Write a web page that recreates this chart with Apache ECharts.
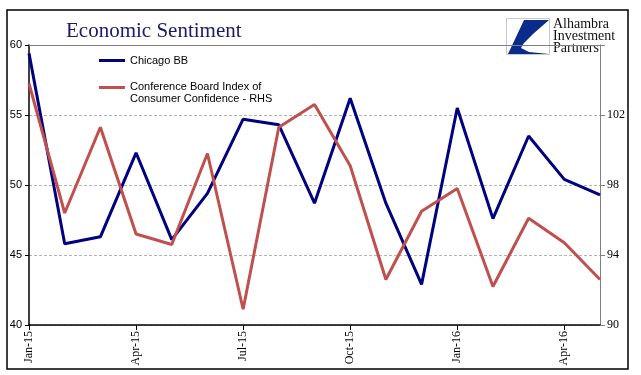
<!DOCTYPE html>
<html>
<head>
<meta charset="utf-8">
<script src="https://cdn.jsdelivr.net/npm/echarts@6/dist/echarts.min.js"></script>
<style>
  html, body { margin: 0; padding: 0; background: #fff; }
  #chart { width: 641px; height: 375px; }
</style>
</head>
<body>
<div id="chart"></div>
<script>
// monthly, Jan-15 .. May-16
const months = ['Jan-15', 'Feb-15', 'Mar-15', 'Apr-15', 'May-15', 'Jun-15', 'Jul-15', 'Aug-15', 'Sep-15',
  'Oct-15', 'Nov-15', 'Dec-15', 'Jan-16', 'Feb-16', 'Mar-16', 'Apr-16', 'May-16']

// Chicago BB (left axis)
const chicagoBB = [59.4, 45.8, 46.3, 52.3, 46.1, 49.4, 54.7, 54.3, 48.7,
  56.2, 48.7, 42.9, 55.5, 47.6, 53.5, 50.4, 49.3]

// Conference Board consumer confidence (right axis)
const confBoard = [103.8, 96.4, 101.3, 95.2, 94.6, 99.8, 90.9, 101.3, 102.6,
  99.1, 92.6, 96.5, 97.8, 92.2, 96.1, 94.7, 92.6]

const leftTicks = { min: 40, max: 60, interval: 5 }
const rightTicks = { min: 90, max: 106, interval: 4 }

const NAVY = '#000080'
const RED = '#C0504D'
const SERIF = '"Liberation Serif", "DejaVu Serif", serif'
const SANS = '"Liberation Sans", Arial, sans-serif'

const nameBB = 'Chicago BB'
const nameCB = 'Conference Board Index of\nConsumer Confidence - RHS'

const chart = echarts.init(document.getElementById('chart'), null, { renderer: 'canvas' })

chart.setOption({
  animation: false,
  backgroundColor: '#fff',
  title: {
    text: 'Economic Sentiment',
    left: 61,
    top: 16,
    textStyle: { fontFamily: SERIF, fontSize: 21, fontWeight: 'normal', color: '#1a1a6a' },
  },
  legend: [
    {
      data: [nameBB],
      left: 94,
      top: 50,
      orient: 'vertical',
      itemWidth: 26,
      itemHeight: 3,
      icon: 'rect',
      textStyle: { fontFamily: SANS, fontSize: 11, color: '#000' },
    },
    {
      data: [nameCB],
      left: 94,
      top: 76,
      orient: 'vertical',
      itemWidth: 26,
      itemHeight: 14,
      icon: 'path://M0,0 L26,0 L26,3 L0,3 Z M0,14 L0.05,14 L0.05,14.05 Z',
      textStyle: { fontFamily: SANS, fontSize: 11, lineHeight: 12, color: '#000' },
    },
  ],
  grid: { left: 29, right: 41, top: 45, bottom: 50 },
  xAxis: [
    {
      type: 'category',
      data: months,
      boundaryGap: false,
      axisLine: { lineStyle: { color: '#000', width: 1.5 } },
      axisTick: { interval: 2, length: 5, lineStyle: { color: '#000' } },
      axisLabel: {
        interval: 2,
        rotate: 90,
        margin: 6,
        fontFamily: SERIF,
        fontSize: 12,
        color: '#000',
      },
      splitLine: { show: false },
    },
    {
      type: 'category',
      data: months,
      boundaryGap: false,
      position: 'top',
      axisLine: { lineStyle: { color: '#808080', width: 1 } },
      axisTick: { show: false },
      axisLabel: { show: false },
    },
  ],
  yAxis: [
    {
      type: 'value',
      ...leftTicks,
      axisLine: { show: true, lineStyle: { color: '#000', width: 1.5 } },
      axisTick: { show: true, length: 4, lineStyle: { color: '#000' } },
      axisLabel: { margin: 7, fontFamily: SANS, fontSize: 11, color: '#000' },
      splitLine: { lineStyle: { color: '#b4b4b4', type: [3, 2], width: 1 } },
    },
    {
      type: 'value',
      ...rightTicks,
      position: 'right',
      axisLine: { show: true, lineStyle: { color: '#808080', width: 1 } },
      axisTick: { show: true, length: 5, lineStyle: { color: '#808080' } },
      axisLabel: {
        margin: 7,
        fontFamily: SERIF,
        fontSize: 12,
        color: '#000',
        formatter: v => (v === rightTicks.max ? '' : v),
      },
      splitLine: { show: false },
    },
  ],
  series: [
    {
      name: nameBB,
      type: 'line',
      data: chicagoBB,
      yAxisIndex: 0,
      symbol: 'none',
      color: NAVY,
      lineStyle: { color: NAVY, width: 3 },
    },
    {
      name: nameCB,
      type: 'line',
      data: confBoard,
      yAxisIndex: 1,
      symbol: 'none',
      color: RED,
      lineStyle: { color: RED, width: 3 },
    },
  ],
  graphic: [
    // outer frame
    {
      type: 'rect',
      z: 50,
      shape: { x: 7, y: 10, width: 621, height: 359 },
      style: { fill: null, stroke: '#000', lineWidth: 1.5 },
    },
    // logo block
    {
      type: 'group',
      z: 100,
      children: [
        { type: 'rect', shape: { x: 506, y: 16, width: 120, height: 41 }, style: { fill: '#fff' } },
        { type: 'rect', shape: { x: 506.5, y: 18.5, width: 43, height: 36 }, style: { fill: '#fff', stroke: '#c8c8c8', lineWidth: 1 } },
        {
          type: 'polygon',
          shape: { points: [[524, 20], [549, 20], [533, 34], [524, 43], [521, 48], [529, 52], [549, 54], [508, 54]] },
          style: { fill: '#0a2a8c' },
        },
        {
          type: 'text',
          style: {
            x: 553, y: 18,
            text: 'Alhambra\nInvestment\nPartners',
            font: '14px ' + SERIF,
            lineHeight: 12,
            fill: '#111',
          },
        },
      ],
    },
  ],
})
</script>
</body>
</html>
